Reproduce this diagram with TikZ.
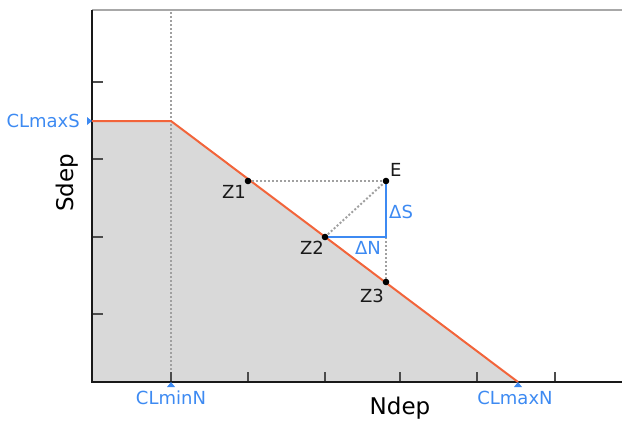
\documentclass[tikz,border=0pt]{standalone}
\usepackage{fontspec}
\setmainfont{DejaVu Sans}
\usepackage{xcolor}
\usetikzlibrary{positioning}
\definecolor{clblue}{HTML}{3D8AF2}
\definecolor{clorange}{HTML}{F2643A}
\definecolor{clfill}{HTML}{D9D9D9}
\definecolor{clgray}{HTML}{A8A8A8}
\definecolor{cldot}{HTML}{A0A0A0}

\begin{document}
\begin{tikzpicture}[x=1pt, y=-1pt,
  axis/.style={line width=2pt, black!90},
  tickline/.style={line width=1.2pt, black!70},
  limit/.style={line width=2pt, clorange},
  guide/.style={line width=2pt, cldot, dash pattern=on 2pt off 2pt},
  delta/.style={line width=2pt, clblue},
  lbl/.style={inner sep=0pt, font=\fontsize{18}{21}\selectfont, text=black!90},
  bluelbl/.style={lbl, text=clblue},
  axlbl/.style={inner sep=0pt, font=\fontsize{23}{27}\selectfont},
  flag/.style={fill=clblue},
]
  \useasboundingbox (0,0) rectangle (622,421);

  % frame and limits
  \coordinate (O) at (92,382);
  \coordinate (top) at (92,10);
  \coordinate (topR) at (622,10);
  \coordinate (botR) at (622,382);
  \coordinate (Smax) at (92,121);
  \coordinate (knee) at (171,121);
  \coordinate (Nmin) at (171,382);
  \coordinate (Nmin top) at (171,10);
  \coordinate (Nmax) at (518,382);

  \fill[clfill] (O) -- (Smax) -- (knee) -- (Nmax) -- cycle;
  \draw[guide] (Nmin) -- (Nmin top);
  \foreach \y in {82,159,237,314}
    \draw[tickline] (92,\y) -- ++(11,0);
  \foreach \x in {171,248,325,400,477,555}
    \draw[tickline] (\x,382) -- ++(0,-10);
  \draw[line width=2pt, clgray] (top) -- (topR);
  \draw[axis] (top) -- (O) -- (botR);
  \draw[limit] (Smax) -- (knee) -- (Nmax);

  % points
  \coordinate (Z1) at (248,181);
  \coordinate (Z2) at (325,237);
  \coordinate (Z3) at (386,282);
  \coordinate (E) at (386,181);
  \coordinate (C) at (386,237);

  \draw[guide] (Z1) -- (E);
  \draw[guide] (Z2) -- (E);
  \draw[guide] (C) -- (Z3);
  \draw[delta] (Z2) -- (C) -- (E);
  \foreach \p in {Z1,Z2,Z3,E}
    \fill[black] (\p) circle (3.3pt);

  \node[lbl, below left=4pt and 2pt of Z1] (lZ1) {Z1};
  \node[lbl, below left=4pt and 1pt of Z2] (lZ2) {Z2};
  \node[lbl, below left=7pt and 2pt of Z3] (lZ3) {Z3};
  \node[lbl, above right=4pt and 4pt of E] (lE) {E};
  \path (C) -- (E) node[bluelbl, pos=0.45, right=3pt] (dS) {ΔS};
  \node[bluelbl, below left=4pt and 5pt of C] (dN) {ΔN};

  % limit markers
  \fill[flag] (Smax) -- ++(-5,-4) -- ++(0,8) -- cycle;
  \fill[flag] (Nmin) -- ++(-4,5) -- ++(8,0) -- cycle;
  \fill[flag] (Nmax) -- ++(-4,5) -- ++(8,0) -- cycle;
  \node[bluelbl, left=12pt of Smax] (clmaxs) {CLmaxS};
  \node[bluelbl, below=9pt of Nmin] (clminn) {CLminN};
  \node[bluelbl, below=9pt of Nmax, xshift=-3pt] (clmaxn) {CLmaxN};

  % axis titles
  \node[axlbl, rotate=90] (sdep) at (67,183) {Sdep};
  \node[axlbl] (ndep) at (400,408) {Ndep};
\end{tikzpicture}
\end{document}
